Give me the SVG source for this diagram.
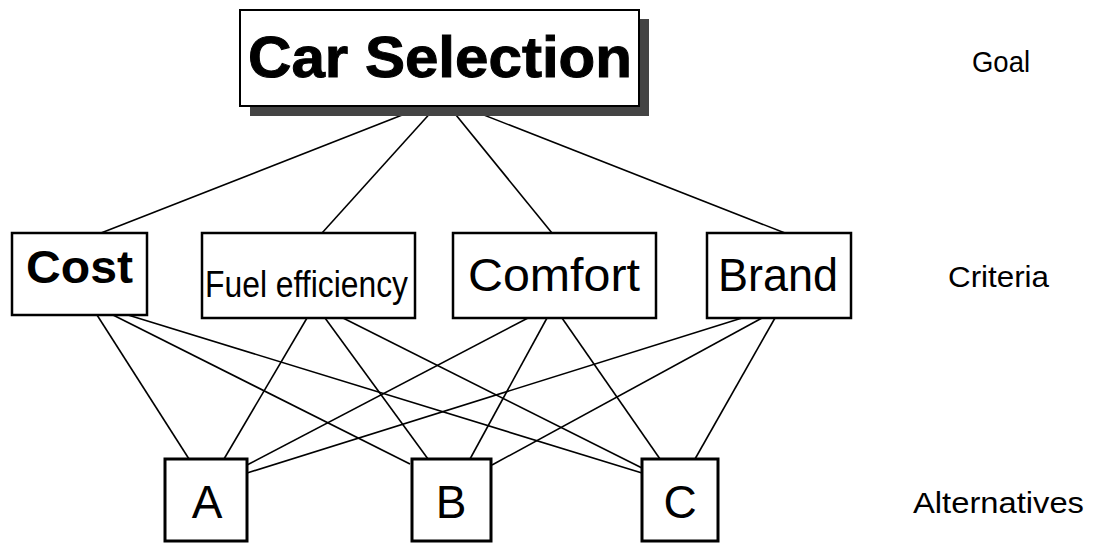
<svg xmlns="http://www.w3.org/2000/svg" width="1095" height="545" viewBox="0 0 1095 545">
<style>
.box{fill:#fff;stroke:#000;stroke-width:2.5}
.alt{fill:#fff;stroke:#000;stroke-width:3}
.edge{stroke:#000;stroke-width:1.6;fill:none}
text{font-family:"Liberation Sans",Arial,sans-serif;fill:#000}
.lbl{font-size:30px;text-anchor:middle}
</style>
<rect width="1095" height="545" fill="#fff"/>
<g id="connectors" class="edge">
<line x1="443" y1="99" x2="101" y2="233"/>
<line x1="443" y1="99" x2="322" y2="233"/>
<line x1="443" y1="99" x2="552" y2="233"/>
<line x1="443" y1="99" x2="785" y2="233"/>
<line x1="97" y1="315" x2="189" y2="459"/>
<line x1="113" y1="315" x2="410" y2="464"/>
<line x1="128" y1="315" x2="642" y2="473"/>
<line x1="307" y1="318" x2="224" y2="459"/>
<line x1="325" y1="318" x2="428" y2="459"/>
<line x1="343" y1="318" x2="642" y2="468"/>
<line x1="528" y1="318" x2="247" y2="465"/>
<line x1="547" y1="318" x2="470" y2="459"/>
<line x1="562" y1="318" x2="660" y2="459"/>
<line x1="742" y1="318" x2="247" y2="473"/>
<line x1="762" y1="318" x2="492" y2="465"/>
<line x1="775" y1="318" x2="695" y2="459"/>
</g>
<g id="goal">
<rect x="250" y="19" width="399" height="97" fill="#444"/>
<rect x="240" y="10" width="399" height="96" fill="#fff" stroke="#000" stroke-width="2"/>
<text x="440" y="77" font-size="58" font-weight="bold" text-anchor="middle" textLength="384" lengthAdjust="spacingAndGlyphs" stroke="#000" stroke-width="1">Car Selection</text>
</g>
<g id="cost">
<rect class="box" x="12" y="233" width="135" height="82"/>
<text x="79.5" y="283" font-size="46" font-weight="bold" text-anchor="middle" textLength="107" lengthAdjust="spacingAndGlyphs">Cost</text>
</g>
<g id="fuel">
<rect class="box" x="202" y="233" width="213" height="85"/>
<text x="306.5" y="297" font-size="36" text-anchor="middle" textLength="203" lengthAdjust="spacingAndGlyphs">Fuel efficiency</text>
</g>
<g id="comfort">
<rect class="box" x="453" y="233" width="203" height="85"/>
<text x="554" y="291" font-size="47" text-anchor="middle" textLength="172" lengthAdjust="spacingAndGlyphs">Comfort</text>
</g>
<g id="brand">
<rect class="box" x="707" y="233" width="144" height="85"/>
<text x="778" y="291" font-size="47" text-anchor="middle" textLength="120" lengthAdjust="spacingAndGlyphs">Brand</text>
</g>
<g id="altA">
<rect class="alt" x="165" y="459" width="82" height="82"/>
<text x="207" y="518" font-size="46" text-anchor="middle">A</text>
</g>
<g id="altB">
<rect class="alt" x="412" y="459" width="79" height="82"/>
<text x="451" y="518" font-size="46" text-anchor="middle">B</text>
</g>
<g id="altC">
<rect class="alt" x="642" y="459" width="76" height="82"/>
<text x="680" y="518" font-size="46" text-anchor="middle">C</text>
</g>
<g id="levels">
<text class="lbl" x="1001" y="72" textLength="58" lengthAdjust="spacingAndGlyphs">Goal</text>
<text class="lbl" x="998.5" y="287" textLength="101" lengthAdjust="spacingAndGlyphs">Criteria</text>
<text class="lbl" x="998.5" y="513" textLength="171" lengthAdjust="spacingAndGlyphs">Alternatives</text>
</g>
</svg>
